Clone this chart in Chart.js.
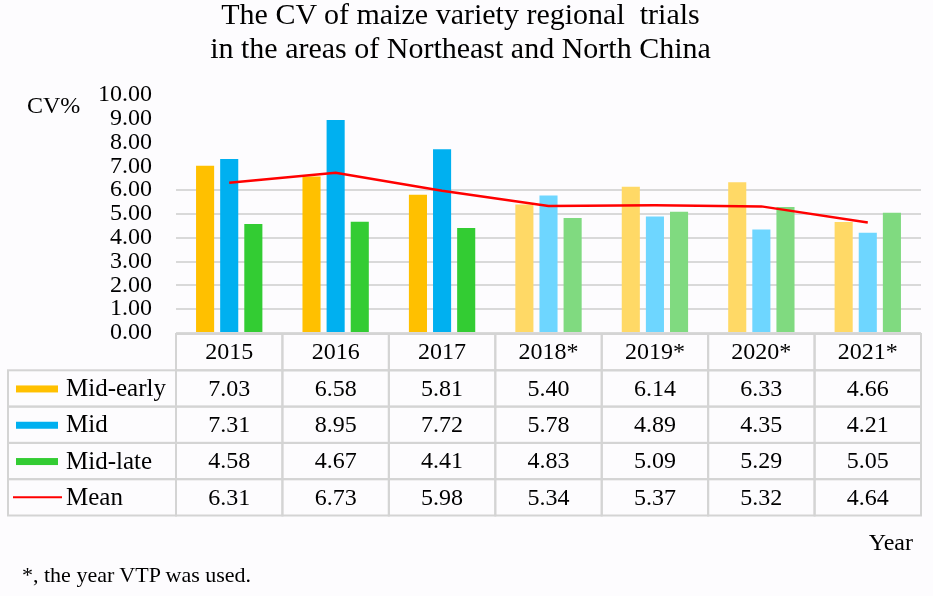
<!DOCTYPE html>
<html>
<head>
<meta charset="utf-8">
<script src="https://cdn.jsdelivr.net/npm/chart.js@4.4.1/dist/chart.umd.min.js"></script>
<style>
  html, body { margin: 0; padding: 0; background: #fdfcfe; }
  #wrap { position: relative; width: 933px; height: 596px; overflow: hidden; }
  #cvChart { position: absolute; left: 0; top: 0; }
  .txt { position: absolute; font-family: 'Liberation Serif', 'Times New Roman', serif; color: #000; white-space: nowrap; }
  #title { left: -6px; top: -3px; width: 933px; text-align: center; font-size: 30px; line-height: 34px; }
  #ylab { left: 27px; top: 93px; font-size: 24px; line-height: 24px; }
  #xlab { right: 20px; top: 530px; font-size: 24px; line-height: 24px; }
  #note { left: 22px; top: 564px; font-size: 22px; line-height: 22px; }
</style>
</head>
<body>
<div id="wrap">
  <canvas id="cvChart" width="933" height="596"></canvas>
  <div id="title" class="txt">The CV of maize variety regional&nbsp; trials<br>in the areas of Northeast and North China</div>
  <div id="ylab" class="txt">CV%</div>
  <div id="xlab" class="txt">Year</div>
  <div id="note" class="txt">*, the year VTP was used.</div>
</div>
<script>
const years = ['2015', '2016', '2017', '2018*', '2019*', '2020*', '2021*'];
const midEarly = [7.03, 6.58, 5.81, 5.40, 6.14, 6.33, 4.66];
const mid = [7.31, 8.95, 7.72, 5.78, 4.89, 4.35, 4.21];
const midLate = [4.58, 4.67, 4.41, 4.83, 5.09, 5.29, 5.05];
const mean = [6.31, 6.73, 5.98, 5.34, 5.37, 5.32, 4.64];
const yTicks = [0, 1, 2, 3, 4, 5, 6, 7, 8, 9, 10];

// colori pieni per 2015-2017, chiari per gli anni VTP
function colorsFor(full, light) {
    return years.map(y => y.indexOf('*') >= 0 ? light : full);
}

const serif = "'Liberation Serif', 'Times New Roman', serif";

// Tabella dati sotto il grafico
const tablePlugin = {
    id: 'dataTable',
    afterDraw(chart) {
        const ctx = chart.ctx;
        const area = chart.chartArea;
        const x = chart.scales.x;
        const colW = (area.right - area.left) / years.length;
        const rowH = 36.3;
        const top = area.bottom + 1;
        const left = 8;
        const rows = [
            { name: 'Mid-early', values: midEarly, color: '#ffc000', kind: 'bar' },
            { name: 'Mid', values: mid, color: '#00b0f0', kind: 'bar' },
            { name: 'Mid-late', values: midLate, color: '#33cc33', kind: 'bar' },
            { name: 'Mean', values: mean, color: '#ff0000', kind: 'line' }
        ];

        ctx.save();
        ctx.strokeStyle = '#d4d4d4';
        ctx.lineWidth = 2;
        ctx.fillStyle = '#000';
        ctx.font = '24px ' + serif;
        ctx.textBaseline = 'middle';

        // intestazione anni
        years.forEach((y, i) => {
            const cx = x.getPixelForValue(i);
            ctx.strokeRect(cx - colW / 2, top, colW, rowH);
            ctx.textAlign = 'center';
            ctx.fillText(y, cx, top + rowH / 2 + 1);
        });

        rows.forEach((r, j) => {
            const ry = top + rowH * (j + 1);
            const cy = ry + rowH / 2 + 1;
            ctx.strokeRect(left, ry, area.left - left, rowH);
            if (r.kind === 'bar') {
                ctx.fillStyle = r.color;
                ctx.fillRect(16, cy - 4, 42, 7);
            } else {
                ctx.strokeStyle = r.color;
                ctx.beginPath();
                ctx.moveTo(13, cy - 1);
                ctx.lineTo(62, cy - 1);
                ctx.stroke();
                ctx.strokeStyle = '#d4d4d4';
            }
            ctx.fillStyle = '#000';
            ctx.textAlign = 'left';
            ctx.font = '25px ' + serif;
            ctx.fillText(r.name, 66, cy);
            ctx.font = '24px ' + serif;
            r.values.forEach((v, i) => {
                const cx = x.getPixelForValue(i);
                ctx.strokeRect(cx - colW / 2, ry, colW, rowH);
                ctx.textAlign = 'center';
                ctx.fillText(v.toFixed(2), cx, cy);
            });
        });
        ctx.restore();
    }
};

const ctx1 = document.getElementById('cvChart').getContext('2d');
const cvChart = new Chart(ctx1, {
    type: 'bar',
    data: {
        labels: years,
        datasets: [{
            type: 'line',
            label: 'Mean',
            data: mean,
            borderColor: '#ff0000',
            borderWidth: 2.5,
            pointRadius: 0,
            tension: 0,
            order: 0
        }, {
            label: 'Mid-early',
            data: midEarly,
            backgroundColor: colorsFor('#ffc000', '#ffd966'),
            order: 1
        }, {
            label: 'Mid',
            data: mid,
            backgroundColor: colorsFor('#00b0f0', '#6ed6ff'),
            order: 1
        }, {
            label: 'Mid-late',
            data: midLate,
            backgroundColor: colorsFor('#33cc33', '#80da80'),
            order: 1
        }]
    },
    options: {
        responsive: false,
        animation: false,
        devicePixelRatio: 1,
        layout: {
            padding: { left: 0, top: 95, right: 12, bottom: 263 }
        },
        datasets: {
            bar: {
                categoryPercentage: 0.68,
                barPercentage: 0.75
            }
        },
        plugins: {
            legend: { display: false },
            tooltip: { enabled: false }
        },
        scales: {
            x: {
                display: false
            },
            y: {
                min: 0,
                max: 10,
                afterBuildTicks: scale => {
                    scale.ticks = yTicks.map(v => ({ value: v }));
                },
                afterFit: scale => {
                    scale.width = 176;
                },
                ticks: {
                    autoSkip: false,
                    padding: 24,
                    color: '#000',
                    font: { family: serif, size: 24, lineHeight: 1 },
                    callback: v => Number(v).toFixed(2)
                },
                grid: {
                    drawTicks: false,
                    lineWidth: 2,
                    color: c => (c.tick && c.tick.value <= 6) ? '#d9d9d9' : 'rgba(0,0,0,0)'
                },
                border: { display: false }
            }
        }
    },
    plugins: [tablePlugin]
});
</script>
</body>
</html>
